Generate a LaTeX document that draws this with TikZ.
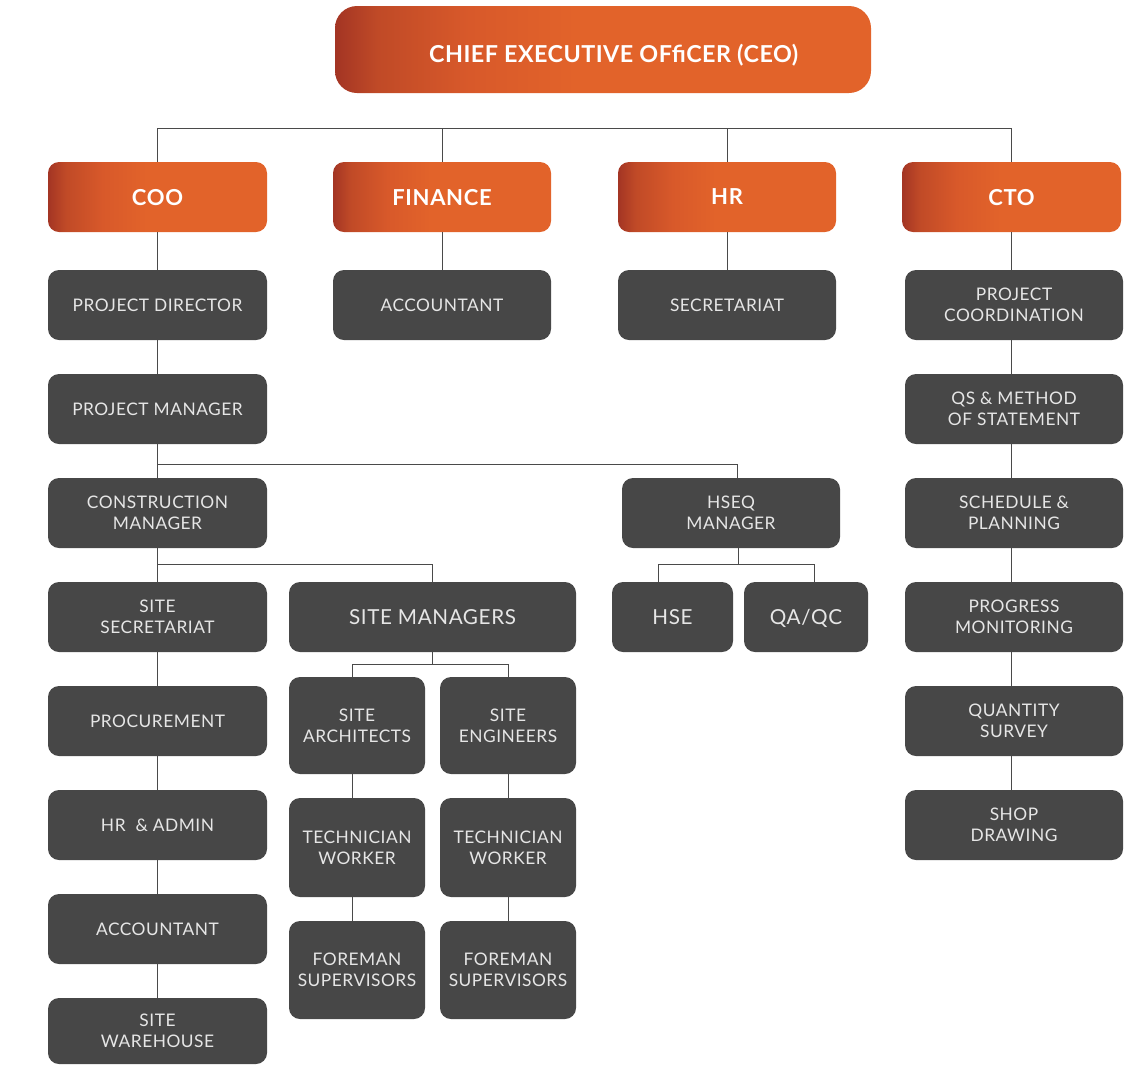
\documentclass[tikz,border=0pt]{standalone}
\usepackage{fontspec}
\setmainfont{Lato}
\usetikzlibrary{calc}
\definecolor{dkbox}{HTML}{474747}
\definecolor{orng}{HTML}{E2632A}
\definecolor{gA}{HTML}{A33524}
\definecolor{gB}{HTML}{C04A27}
\definecolor{gC}{HTML}{D8592A}
\definecolor{lnc}{HTML}{4A4A4A}
\definecolor{txt}{HTML}{E6E6E6}
\pgfdeclarehorizontalshading{ograd}{100bp}{color(0bp)=(gA); color(25bp)=(gA); color(29bp)=(gB); color(37.5bp)=(gC); color(47.5bp)=(orng); color(100bp)=(orng)}
\newdimen\px \px=0.75pt
\newcommand\bx[7]{\node[#6, minimum width={(#4-#2)*\px}, minimum height={(#5-#3)*\px}] (#1) at ({(#2+#4)/2},{(#3+#5)/2}) {#7};}
\begin{document}
\begin{tikzpicture}[x=0.75pt,y=-0.75pt,
  dbox/.style={fill=dkbox, rounded corners=11\px, text=txt, font=\fontsize{13}{15.5}\selectfont\addfontfeatures{LetterSpace=3}, align=center, inner sep=0pt, text depth=0pt},
  dboxl/.style={dbox, font=\fontsize{15.5}{18}\selectfont\addfontfeatures{LetterSpace=3}},
  hbox/.style={shading=ograd, rounded corners=11\px, text=white, font=\bfseries\fontsize{16.5}{18}\selectfont\addfontfeatures{LetterSpace=3}, align=center, inner sep=0pt, text depth=0pt},
  ceobox/.style={hbox, rounded corners=22\px, font=\bfseries\fontsize{17.5}{20}\selectfont\addfontfeatures{LetterSpace=2}, text height=19pt},
  conn/.style={draw=lnc, line width=1\px}]
\useasboundingbox (0,0) rectangle (1124,1065);
% top
\bx{ceo}{335}{6}{871}{93}{ceobox}{\hspace*{16pt}CHIEF EXECUTIVE OFfiCER (CEO)}
\bx{coo}{48}{162}{267}{232}{hbox}{COO}
\bx{fin}{333}{162}{551}{232}{hbox}{FINANCE}
\bx{hr}{618}{162}{836}{232}{hbox}{HR}
\bx{cto}{902}{162}{1121}{232}{hbox}{CTO}
% column 1
\bx{pd}{48}{270}{267}{340}{dbox}{PROJECT DIRECTOR}
\bx{pm}{48}{374}{267}{444}{dbox}{PROJECT MANAGER}
\bx{cm}{48}{478}{267}{548}{dbox}{CONSTRUCTION\\MANAGER}
\bx{ss}{48}{582}{267}{652}{dbox}{SITE\\SECRETARIAT}
\bx{proc}{48}{686}{267}{756}{dbox}{PROCUREMENT}
\bx{hra}{48}{790}{267}{860}{dbox}{HR \ \& ADMIN}
\bx{acc1}{48}{894}{267}{964}{dbox}{ACCOUNTANT}
\bx{sw}{48}{998}{267}{1064}{dbox}{SITE\\WAREHOUSE}
% finance, hr
\bx{facc}{333}{270}{551}{340}{dbox}{ACCOUNTANT}
\bx{sec}{618}{270}{836}{340}{dbox}{SECRETARIAT}
% cto column
\bx{pc}{905}{270}{1123}{340}{dbox}{PROJECT\\COORDINATION}
\bx{qs}{905}{374}{1123}{444}{dbox}{QS \& METHOD\\OF STATEMENT}
\bx{sp}{905}{478}{1123}{548}{dbox}{SCHEDULE \&\\PLANNING}
\bx{prm}{905}{582}{1123}{652}{dbox}{PROGRESS\\MONITORING}
\bx{qsv}{905}{686}{1123}{756}{dbox}{QUANTITY\\SURVEY}
\bx{sd}{905}{790}{1123}{860}{dbox}{SHOP\\DRAWING}
% hseq
\bx{hseq}{622}{478}{840}{548}{dbox}{HSEQ\\MANAGER}
\bx{hse}{612}{582}{733}{652}{dboxl}{HSE}
\bx{qa}{744}{582}{868}{652}{dboxl}{QA/QC}
% site managers
\bx{sm}{289}{582}{576}{652}{dboxl}{SITE MANAGERS}
\bx{sa}{289}{677}{425}{774}{dbox}{SITE\\ARCHITECTS}
\bx{se}{440}{677}{576}{774}{dbox}{SITE\\ENGINEERS}
\bx{tw1}{289}{798}{425}{897}{dbox}{TECHNICIAN\\WORKER}
\bx{tw2}{440}{798}{576}{897}{dbox}{TECHNICIAN\\WORKER}
\bx{fs1}{289}{921}{425}{1019}{dbox}{FOREMAN\\SUPERVISORS}
\bx{fs2}{440}{921}{576}{1019}{dbox}{FOREMAN\\SUPERVISORS}
% connectors: top bus
\coordinate (busL) at (157.5,128);
\coordinate (busR) at (1012,128);
\draw[conn] (busL) -- (busR);
\foreach \n in {coo,fin,hr,cto} \draw[conn] (\n.north) -- (\n.north |- busL);
% column 1 chain
\draw[conn] (coo.south) -- (pd.north);
\draw[conn] (pd.south) -- (pm.north);
\draw[conn] (pm.south) -- (cm.north);
\draw[conn] (cm.south) -- (ss.north);
\draw[conn] (ss.south) -- (proc.north);
\draw[conn] (proc.south) -- (hra.north);
\draw[conn] (hra.south) -- (acc1.north);
\draw[conn] (acc1.south) -- (sw.north);
\draw[conn] (fin.south) -- (facc.north);
\draw[conn] (hr.south) -- (sec.north);
% cto chain
\draw[conn] (cto.south) -- (cto.south |- pc.north);
\draw[conn] (cto.south |- pc.south) -- (cto.south |- qs.north);
\draw[conn] (cto.south |- qs.south) -- (cto.south |- sp.north);
\draw[conn] (cto.south |- sp.south) -- (cto.south |- prm.north);
\draw[conn] (cto.south |- prm.south) -- (cto.south |- qsv.north);
\draw[conn] (cto.south |- qsv.south) -- (cto.south |- sd.north);
% PM -> HSEQ
\coordinate (b1) at (157.5,464);
\draw[conn] (b1) -| ([xshift=6\px]hseq.north);
% CM -> site managers
\coordinate (b2) at (157.5,564);
\draw[conn] (b2) -| (sm.north);
% SM -> architects / engineers
\coordinate (b3l) at (352,664);
\coordinate (b3r) at (508,664);
\draw[conn] (sm.south) -- (sm.south |- b3l);
\draw[conn] (b3l) -- (b3r);
\draw[conn] (b3l) -- (b3l |- sa.north);
\draw[conn] (b3r) -- (b3r |- se.north);
\draw[conn] (b3l |- sa.south) -- (b3l |- tw1.north);
\draw[conn] (b3l |- tw1.south) -- (b3l |- fs1.north);
\draw[conn] (b3r |- se.south) -- (b3r |- tw2.north);
\draw[conn] (b3r |- tw2.south) -- (b3r |- fs2.north);
% HSEQ -> HSE, QA/QC
\coordinate (h1) at (658,564);
\coordinate (h2) at (814,564);
\draw[conn] ([xshift=7\px]hseq.south) -- ([xshift=7\px]hseq.south |- h1);
\draw[conn] (h1) -- (h2);
\draw[conn] (h1) -- (h1 |- hse.north);
\draw[conn] (h2) -- (h2 |- qa.north);
\end{tikzpicture}
\end{document}
